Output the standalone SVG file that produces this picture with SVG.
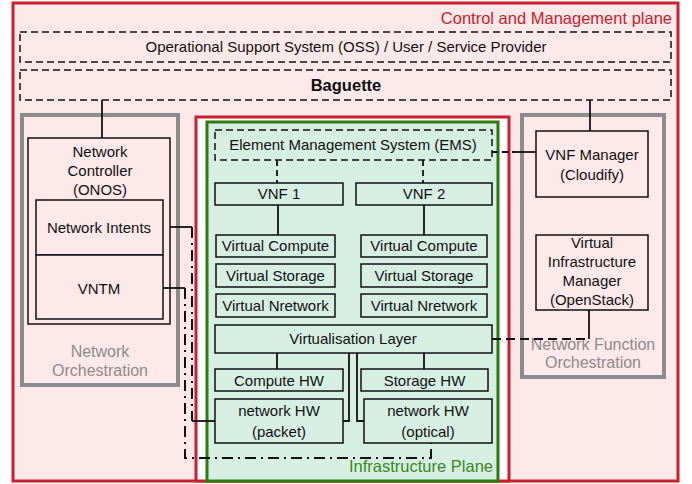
<svg xmlns="http://www.w3.org/2000/svg" width="692" height="484" viewBox="0 0 692 484">
<style>
text{font-family:"Liberation Sans",Arial,sans-serif;font-size:15px;fill:#111;text-anchor:middle}
.box{fill:none;stroke:#111;stroke-width:1.5}
.gbox{fill:#d7efe3;stroke:#111;stroke-width:1.5}
.pbox{fill:#fde9e9;stroke:#111;stroke-width:1.5}
.dash{fill:#fde9e9;stroke:#111;stroke-width:1.5;stroke-dasharray:7 4}
.orch{fill:#fde9e9;stroke:#8c8c8c;stroke-width:4}
.gray{fill:#8c8c8c;font-size:16px}
.ln{fill:none;stroke:#111;stroke-width:1.8}
.dl{fill:none;stroke:#111;stroke-width:1.8;stroke-dasharray:6 4}
.dd{fill:none;stroke:#111;stroke-width:2;stroke-dasharray:11 5 2 5}
</style>
<g id="control-plane">
<rect x="13" y="3" width="665" height="478" fill="#fde9e9" stroke="#c8202e" stroke-width="3"/>
<text x="672" y="24" style="text-anchor:end;fill:#c8202e;font-size:16.5px">Control and Management plane</text>
</g>
<g id="oss">
<rect class="dash" x="20" y="32" width="651" height="30"/>
<text x="346" y="52">Operational Support System (OSS) / User / Service Provider</text>
</g>
<g id="baguette">
<rect class="dash" x="20" y="70" width="651" height="30"/>
<text x="346" y="91" style="font-weight:bold;font-size:16.5px">Baguette</text>
</g>
<g id="network-orchestration">
<rect class="orch" x="22" y="115" width="156" height="270"/>
<text class="gray" x="100" y="357">Network</text>
<text class="gray" x="100" y="376">Orchestration</text>
</g>
<g id="network-controller">
<rect class="pbox" x="28" y="138" width="142" height="186"/>
<text x="100" y="157">Network</text>
<text x="100" y="176">Controller</text>
<text x="100" y="195">(ONOS)</text>
</g>
<g id="network-intents">
<rect class="pbox" x="36" y="200" width="127" height="55"/>
<text x="99" y="233">Network Intents</text>
</g>
<g id="vntm">
<rect class="pbox" x="36" y="255" width="127" height="64"/>
<text x="99" y="294">VNTM</text>
</g>
<g id="vim-region">
<rect x="196" y="117" width="313" height="364" fill="#ffffff" stroke="#c8202e" stroke-width="3"/>
</g>
<g id="infrastructure-plane">
<rect x="207" y="122" width="291" height="359" fill="#d7efe3" stroke="#2f7a0f" stroke-width="3"/>
<text x="493" y="472" style="text-anchor:end;fill:#3a8a1a;font-size:16.5px">Infrastructure Plane</text>
</g>
<g id="nfo">
<rect class="orch" x="522" y="115" width="142" height="262"/>
<text class="gray" x="593" y="350">Network Function</text>
<text class="gray" x="593" y="368">Orchestration</text>
</g>
<g id="ems">
<rect class="dash" style="fill:#d7efe3" x="215" y="130" width="277" height="30"/>
<text x="353" y="150">Element Management System (EMS)</text>
</g>
<g id="vnf1">
<rect class="gbox" x="215" y="183" width="128" height="22"/>
<text x="279" y="199">VNF 1</text>
</g>
<g id="vnf2">
<rect class="gbox" x="356" y="183" width="136" height="22"/>
<text x="424" y="199">VNF 2</text>
</g>
<g id="vcompute1">
<rect class="gbox" x="216" y="235" width="119" height="22"/>
<text x="275.5" y="251">Virtual Compute</text>
</g>
<g id="vstorage1">
<rect class="gbox" x="216" y="264" width="119" height="23"/>
<text x="275.5" y="281">Virtual Storage</text>
</g>
<g id="vnetwork1">
<rect class="gbox" x="216" y="294" width="119" height="23"/>
<text x="275.5" y="311">Virtual Nretwork</text>
</g>
<g id="vcompute2">
<rect class="gbox" x="361" y="235" width="126" height="22"/>
<text x="424" y="251">Virtual Compute</text>
</g>
<g id="vstorage2">
<rect class="gbox" x="361" y="264" width="126" height="23"/>
<text x="424" y="281">Virtual Storage</text>
</g>
<g id="vnetwork2">
<rect class="gbox" x="361" y="294" width="126" height="23"/>
<text x="424" y="311">Virtual Nretwork</text>
</g>
<g id="virtualisation-layer">
<rect class="gbox" x="215" y="325" width="277" height="28"/>
<text x="353" y="344">Virtualisation Layer</text>
</g>
<g id="compute-hw">
<rect class="gbox" x="215" y="369" width="128" height="22"/>
<text x="279" y="386">Compute HW</text>
</g>
<g id="storage-hw">
<rect class="gbox" x="361" y="369" width="127" height="22"/>
<text x="424.5" y="386">Storage HW</text>
</g>
<g id="network-hw-packet">
<rect class="gbox" x="215" y="399" width="128" height="44"/>
<text x="279" y="416">network HW</text>
<text x="279" y="437">(packet)</text>
</g>
<g id="network-hw-optical">
<rect class="gbox" x="364" y="399" width="128" height="44"/>
<text x="428" y="416">network HW</text>
<text x="428" y="437">(optical)</text>
</g>
<g id="vnf-manager">
<rect class="pbox" x="536" y="131" width="112" height="66"/>
<text x="592" y="160">VNF Manager</text>
<text x="592" y="180">(Cloudify)</text>
</g>
<g id="vim">
<rect class="pbox" x="536" y="235" width="112" height="75"/>
<text x="592" y="248">Virtual</text>
<text x="592" y="267">Infrastructure</text>
<text x="592" y="286">Manager</text>
<text x="592" y="305">(OpenStack)</text>
</g>
<g id="connectors">
<path class="ln" d="M102 100V138"/>
<path class="ln" d="M590 100V131"/>
<path class="dl" d="M277 160V183M423 160V183"/>
<path class="ln" d="M278 205V235M424 205V235"/>
<path class="ln" d="M277 353V369M424 353V369"/>
<path class="ln" d="M349 353V421H343M357 353V421H364"/>
<path class="dl" d="M492 152H515"/>
<path class="ln" d="M515 152H536"/>
<path class="ln" d="M589 310V339"/>
<path class="dl" d="M492 339H589" style="stroke-dasharray:9 5"/>
<path class="ln" d="M170 227H192"/>
<path class="dd" d="M192 227V421"/>
<path class="ln" d="M192 421H215"/>
<path class="ln" d="M163 288H185"/>
<path class="dd" d="M185 288V458H431V443"/>
</g>
</svg>
